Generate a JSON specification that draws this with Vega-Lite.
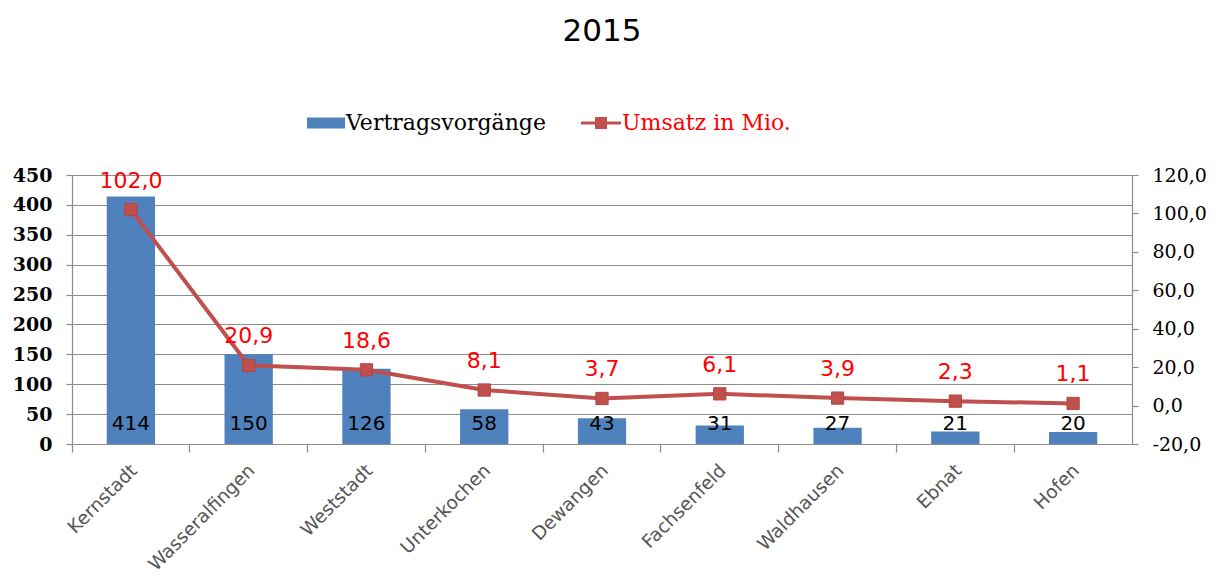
{
  "$schema": "https://vega.github.io/schema/vega-lite/v6.json",
  "autosize": {"type": "none"},
  "width": 1060,
  "height": 269,
  "padding": {"left": 72, "top": 175, "right": 91, "bottom": 137},
  "background": "white",
  "title": {"text": "2015", "font": "DejaVu Sans", "fontSize": 31, "fontWeight": "normal", "color": "#000000", "anchor": "middle", "frame": "group", "offset": 55},
  "config": {
    "view": {"stroke": null},
    "locale": {"number": {"decimal": ",", "thousands": ".", "grouping": [3], "currency": ["", " €"], "minus": "-"}},
    "axis": {"domainColor": "#8C8C8C", "tickColor": "#8C8C8C", "gridColor": "#8C8C8C", "domainWidth": 1.2, "tickWidth": 1.2, "gridWidth": 1.2, "labelOverlap": false}
  },
  "data": {"values": [
    {"Ort": "Kernstadt", "Vertraege": 414, "Umsatz": 102.0},
    {"Ort": "Wasseralfingen", "Vertraege": 150, "Umsatz": 20.9},
    {"Ort": "Weststadt", "Vertraege": 126, "Umsatz": 18.6},
    {"Ort": "Unterkochen", "Vertraege": 58, "Umsatz": 8.1},
    {"Ort": "Dewangen", "Vertraege": 43, "Umsatz": 3.7},
    {"Ort": "Fachsenfeld", "Vertraege": 31, "Umsatz": 6.1},
    {"Ort": "Waldhausen", "Vertraege": 27, "Umsatz": 3.9},
    {"Ort": "Ebnat", "Vertraege": 21, "Umsatz": 2.3},
    {"Ort": "Hofen", "Vertraege": 20, "Umsatz": 1.1}
  ]},
  "encoding": {
    "x": {
      "field": "Ort", "type": "nominal", "sort": null, "title": null,
      "scale": {"paddingInner": 0, "paddingOuter": 0},
      "axis": {"bandPosition": 0, "tickSize": 8, "labelAngle": -45, "labelAlign": "right", "labelBaseline": "middle", "labelOffset": 3, "labelPadding": 15, "labelFont": "DejaVu Sans", "labelFontSize": 18.5, "labelColor": "#555555", "domain": true, "grid": false, "labelOverlap": false}
    }
  },
  "layer": [
    {
      "layer": [
        {
          "mark": {"type": "bar", "color": "#4F81BD", "width": {"band": 0.41}},
          "encoding": {
            "y": {"field": "Vertraege", "type": "quantitative", "title": null,
              "scale": {"domain": [0, 450], "nice": false},
              "axis": {"orient": "left", "values": [0, 50, 100, 150, 200, 250, 300, 350, 400, 450], "format": "d", "grid": true, "tickSize": 6, "labelPadding": 14, "labelOverlap": false, "labelFont": "DejaVu Serif", "labelFontWeight": "bold", "labelFontSize": 19, "labelColor": "#000000"}},
            "color": {"datum": "Vertragsvorgänge", "type": "nominal",
              "scale": {"domain": ["Vertragsvorgänge", "Umsatz in Mio."], "range": ["#4F81BD", "#C0504D"]},
              "legend": {
                "title": null, "orient": "none", "legendX": 233, "legendY": -72, "direction": "horizontal", "padding": 0,
                "symbolSize": 1600, "symbolStrokeWidth": 0, "labelOffset": 1, "columnPadding": 35,
                "labelFont": "DejaVu Serif", "labelFontSize": 22, "labelLimit": 400,
                "encode": {
                  "symbols": {"update": {
                    "shape": {"signal": "datum.value === 'Umsatz in Mio.' ? 'M-1,-0.08H1V0.08H-1Z M-0.3,-0.3H0.3V0.3H-0.3Z' : 'M-0.9,-0.28H1V0.28H-0.9Z'"},
                    "fill": {"signal": "datum.value === 'Umsatz in Mio.' ? '#C0504D' : '#4F81BD'"},
                    "strokeWidth": {"value": 0},
                    "opacity": {"value": 1}
                  }},
                  "labels": {"update": {"fill": {"signal": "datum.value === 'Umsatz in Mio.' ? '#FF0000' : '#000000'"}}}
                }
              }}
          }
        },
        {
          "mark": {"type": "text", "font": "DejaVu Sans", "fontSize": 20, "color": "#000000", "baseline": "alphabetic", "dy": -14},
          "encoding": {
            "y": {"datum": 0, "type": "quantitative", "title": null,
              "axis": {"orient": "left", "values": [0, 50, 100, 150, 200, 250, 300, 350, 400, 450], "format": "d", "grid": true, "tickSize": 6, "labelPadding": 14, "labelOverlap": false, "labelFont": "DejaVu Serif", "labelFontWeight": "bold", "labelFontSize": 19, "labelColor": "#000000"}},
            "text": {"field": "Vertraege", "type": "quantitative", "format": "d"}
          }
        }
      ]
    },
    {
      "layer": [
        {
          "mark": {"type": "line", "strokeWidth": 4, "color": "#C0504D"},
          "encoding": {
            "y": {"field": "Umsatz", "type": "quantitative", "title": null,
              "scale": {"domain": [-20, 120], "nice": false},
              "axis": {"orient": "right", "values": [-20, 0, 20, 40, 60, 80, 100, 120], "format": ".1f", "grid": false, "tickSize": 6, "labelPadding": 14, "labelOverlap": false, "labelFont": "DejaVu Serif", "labelFontSize": 19, "labelColor": "#000000"}},
            "color": {"datum": "Umsatz in Mio.", "type": "nominal"}
          }
        },
        {
          "mark": {"type": "point", "shape": "square", "size": 150, "filled": true, "color": "#C0504D", "stroke": "#B5453F", "strokeWidth": 1, "opacity": 1},
          "encoding": {
            "y": {"field": "Umsatz", "type": "quantitative", "title": null,
              "axis": {"orient": "right", "values": [-20, 0, 20, 40, 60, 80, 100, 120], "format": ".1f", "grid": false, "tickSize": 6, "labelPadding": 14, "labelOverlap": false, "labelFont": "DejaVu Serif", "labelFontSize": 19, "labelColor": "#000000"}}
          }
        },
        {
          "mark": {"type": "text", "font": "DejaVu Sans", "fontSize": 22, "color": "#FF0000", "baseline": "alphabetic", "dy": -22},
          "encoding": {
            "y": {"field": "Umsatz", "type": "quantitative", "title": null,
              "axis": {"orient": "right", "values": [-20, 0, 20, 40, 60, 80, 100, 120], "format": ".1f", "grid": false, "tickSize": 6, "labelPadding": 14, "labelOverlap": false, "labelFont": "DejaVu Serif", "labelFontSize": 19, "labelColor": "#000000"}},
            "text": {"field": "Umsatz", "type": "quantitative", "format": ".1f"}
          }
        }
      ]
    }
  ],
  "resolve": {"scale": {"y": "independent"}}
}
